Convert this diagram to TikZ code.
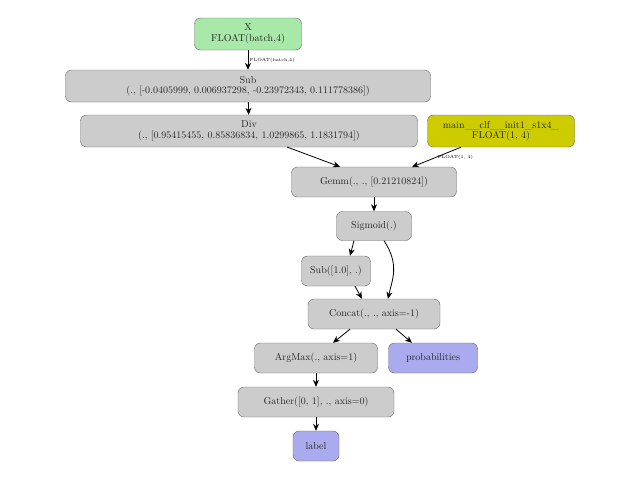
\documentclass[tikz,border=0pt]{standalone}
\usetikzlibrary{arrows.meta}
\begin{document}
\begin{tikzpicture}[x=1pt,y=-1pt,
 box/.style={draw=gray!80!black, rounded corners=6pt, fill=#1, align=center, inner sep=0pt, font=\fontsize{10}{10.5}\selectfont, text=black!85},
 box/.default={gray!40},
 arr/.style={-{Stealth[length=7pt,width=6pt]}, thick, black},
 lab/.style={font=\fontsize{4.5}{5}\selectfont}]
\useasboundingbox (0,0) rectangle (640,480);
\node[box={green!60!gray!30!green!30}, fill={rgb,255:red,168;green,232;blue,168}, minimum width=107, minimum height=32] (x) at (248,34) {X\\FLOAT(batch,4)};
\node[box, minimum width=365, minimum height=32] (sub) at (248,86) {Sub\\(., [-0.0405999, 0.006937298, -0.23972343, 0.111778386])};
\node[box, minimum width=337, minimum height=32] (div) at (249,131) {Div\\(., [0.95415455, 0.85836834, 1.0299865, 1.1831794])};
\node[box, fill={rgb,255:red,204;green,204;blue,0}, minimum width=147, minimum height=32] (init) at (501,131) {main\_\_clf\_\_init1\_s1x4\_\\FLOAT(1, 4)};
\node[box, minimum width=165, minimum height=30] (gemm) at (374,182) {Gemm(., ., [0.21210824])};
\node[box, minimum width=75, minimum height=29] (sig) at (374,226) {Sigmoid(.)};
\node[box, minimum width=69, minimum height=30] (sub2) at (336,271) {Sub([1.0], .)};
\node[box, minimum width=132, minimum height=30] (concat) at (374,314) {Concat(., ., axis=-1)};
\node[box, minimum width=123, minimum height=30] (argmax) at (316,358) {ArgMax(., axis=1)};
\node[box, fill={rgb,255:red,170;green,170;blue,238}, minimum width=89, minimum height=30] (prob) at (433,358) {probabilities};
\node[box, minimum width=156, minimum height=30] (gather) at (316,402) {Gather([0, 1], ., axis=0)};
\node[box, fill={rgb,255:red,170;green,170;blue,238}, minimum width=46, minimum height=30] (label) at (316,446) {label};
\draw[arr] (x) -- node[lab, right, xshift=-2pt] {FLOAT(batch,4)} (sub);
\draw[arr] (sub) -- (div);
\draw[arr] (287,147) -- (gemm.north -| 340,0);
\coordinate (g1) at (340,167);
\coordinate (g2) at (412,167);
\draw[arr] (init.south) ++(-40,0) coordinate (i1) -- node[lab, right, pos=0.55, yshift=1pt] {FLOAT(1, 4)} (g2);
\draw[arr] (gemm) -- (sig);
\draw[arr] (sig.south -| 354,0) -- (sub2.north -| 350,0);
\draw[arr] (sig.south -| 384,0) .. controls (400,265) and (392,280) .. (concat.north -| 388,0);
\draw[arr] (sub2.south -| 355,0) -- (concat.north -| 362,0);
\draw[arr] (concat.south -| 350,0) -- (argmax.north -| 333,0);
\draw[arr] (concat.south -| 396,0) -- (prob.north -| 412,0);
\draw[arr] (argmax) -- (gather);
\draw[arr] (gather) -- (label);
\end{tikzpicture}
\end{document}
